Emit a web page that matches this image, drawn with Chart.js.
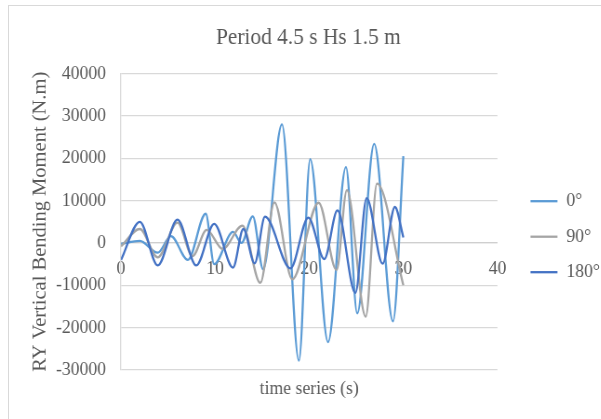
<!DOCTYPE html>
<html>
<head>
<meta charset="utf-8">
<script src="https://cdn.jsdelivr.net/npm/chart.js@4"></script>
<style>
  html, body { margin: 0; padding: 0; background: #fff; overflow: hidden; }
  #frame { position: absolute; left: 8px; top: 5px; width: 700px; height: 500px; border: 1px solid #d9d9d9; }
  /* the chart is drawn a little wider and squeezed back to fit the page */
  #wrap { position: absolute; left: 0; top: 0; width: 646px; height: 419px; transform: scaleX(0.93); transform-origin: 0 0; }
</style>
</head>
<body>
<div id="frame"></div>
<div id="wrap"><canvas id="chart" width="646" height="419"></canvas></div>
<script>
const seriesLabels = ['0°', '90°', '180°'];
const seriesColors = ['#5b9bd5', '#a5a5a5', '#4472c4'];

// turning points of each heading: time (s) and moment (N.m)
const time0 = [0, 2.0, 3.9, 5.3, 7.1, 9.0, 9.9, 11.9, 12.8, 14.0, 15.1, 17.1, 18.9, 20.1, 22.0, 23.9, 25.1, 26.9, 28.9, 30.0];
const moment0 = [-200, 500, -2300, 1600, -4000, 6900, -5000, 2600, 0, 6300, -6200, 28000, -27800, 19800, -23400, 17900, -16600, 23400, -18500, 20500];

const time90 = [0, 2.0, 3.9, 6.0, 7.6, 9.1, 10.8, 12.9, 14.8, 16.3, 18.2, 21.0, 22.9, 24.0, 26.0, 27.2, 30.0];
const moment90 = [-800, 3300, -3400, 4800, -3100, 3100, -1400, 4100, -9400, 9600, -8600, 9500, -6400, 12500, -17400, 14000, -10000];

const time180 = [0, 2.0, 3.9, 6.0, 8.0, 9.9, 11.9, 13.0, 14.2, 15.3, 18.0, 19.9, 21.6, 23.0, 24.9, 26.1, 27.8, 29.1, 30.0];
const moment180 = [-4000, 5000, -5300, 5500, -5300, 4500, -5800, 3300, -4800, 6200, -6000, 6000, -3800, 7700, -11800, 10600, -4900, 8500, 1300];

const xTicks = [0, 10, 20, 30, 40];
const yTicks = [-30000, -20000, -10000, 0, 10000, 20000, 30000, 40000];

Chart.defaults.font.family = '"Liberation Serif", "Times New Roman", serif';
Chart.defaults.color = '#595959';

function toPoints(times, values) {
    return times.map((t, i) => ({ x: t, y: values[i] }));
}

const series = [[time0, moment0], [time90, moment90], [time180, moment180]];

new Chart(document.getElementById('chart'), {
    type: 'line',
    data: {
        datasets: series.map(([t, v], i) => ({
            label: seriesLabels[i],
            data: toPoints(t, v),
            borderColor: seriesColors[i],
            backgroundColor: seriesColors[i],
            borderWidth: 2.3,
            pointRadius: 0,
            cubicInterpolationMode: 'monotone',
            fill: false,
            order: 3 - i
        }))
    },
    options: {
        responsive: false,
        animation: false,
        layout: { padding: { left: 8, right: -9, top: 0, bottom: 0 } },
        plugins: {
            title: {
                display: true,
                text: 'Period 4.5 s Hs 1.5 m',
                font: { size: 23, weight: 'normal' },
                color: '#595959',
                padding: { top: 24, bottom: 22 }
            },
            legend: {
                position: 'right',
                title: { display: true, text: '', font: { size: 12 }, padding: { top: 40, bottom: 0 } },
                labels: {
                    usePointStyle: true,
                    pointStyle: 'line',
                    pointStyleWidth: 29,
                    padding: 16.5,
                    font: { size: 19 },
                    color: '#595959',
                    sort: (a, b) => a.datasetIndex - b.datasetIndex
                }
            },
            tooltip: { enabled: false }
        },
        scales: {
            x: {
                type: 'linear',
                position: { y: 0 },
                min: 0,
                max: 40,
                afterBuildTicks: s => { s.ticks = xTicks.map(v => ({ value: v })); },
                grid: { display: false, drawTicks: false },
                border: { display: true, color: '#cfcfcf', width: 1.3 },
                ticks: { padding: 14.5, font: { size: 19 }, color: '#595959' }
            },
            xTitle: {
                type: 'linear',
                position: 'bottom',
                grid: { display: false, drawTicks: false },
                border: { display: false },
                ticks: { display: false },
                title: {
                    display: true,
                    text: 'time series (s)',
                    font: { size: 19 },
                    color: '#595959',
                    padding: { top: 7.6, bottom: 18.6 }
                }
            },
            y: {
                type: 'linear',
                min: -30000,
                max: 40000,
                afterBuildTicks: s => { s.ticks = yTicks.map(v => ({ value: v })); },
                afterFit: s => { s.width = 122.1; },
                grid: { color: '#d9d9d9', lineWidth: 1.3, drawTicks: false },
                border: { display: true, color: '#d9d9d9', width: 1.3 },
                ticks: { padding: 16, font: { size: 19 }, color: '#595959', callback: v => String(v) },
                title: {
                    display: true,
                    text: 'RY Vertical Bending Moment (N.m)',
                    font: { size: 20.5 },
                    color: '#595959',
                    padding: { top: 23, bottom: 0 }
                }
            },
            gap: {
                type: 'linear',
                position: 'right',
                grid: { display: false, drawTicks: false },
                border: { display: false },
                ticks: { display: false },
                afterFit: s => { s.width = 19; }
            }
        }
    }
});
</script>
</body>
</html>
